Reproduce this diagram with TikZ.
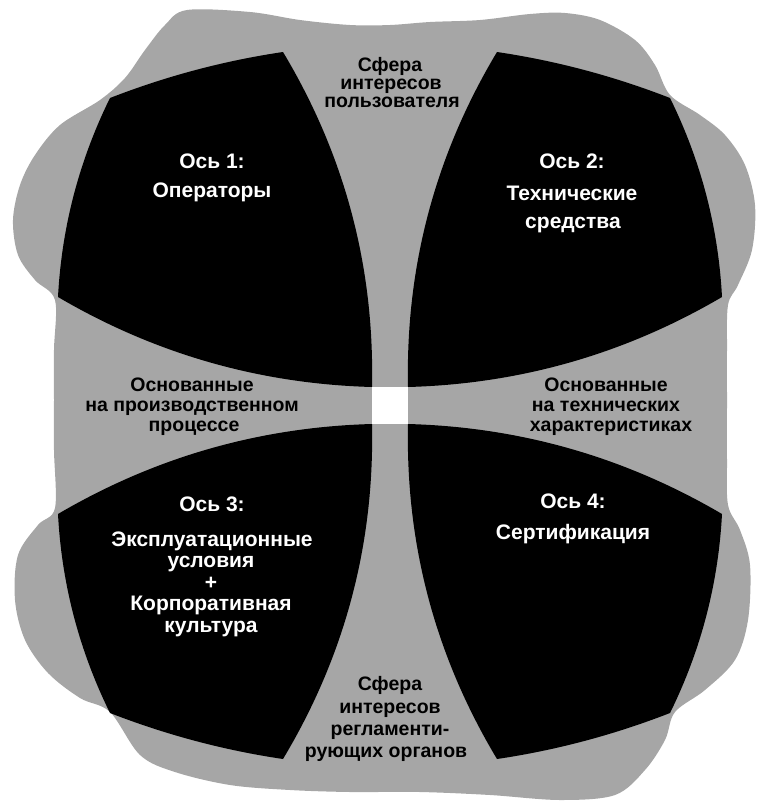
\documentclass[tikz,border=0pt]{standalone}
\usepackage{fontspec}
\setmainfont{Liberation Sans}
\begin{document}
\begin{tikzpicture}[x=1pt,y=-1pt,
  wtext/.style={text=white,font=\fontsize{21}{21}\selectfont\bfseries,anchor=base,inner sep=0pt},
  btext/.style={text=black,font=\fontsize{19.5}{19.5}\selectfont\bfseries,anchor=base,inner sep=0pt},
  quadpath/.style={insert path={(110,98) .. controls (166,76.2) and (223.6,60.8) .. (283,52)
      .. controls (344.9,155.2) and (374.5,266.8) .. (372,387)
      .. controls (259.6,383.9) and (155,353.9) .. (58,297)
      .. controls (61.7,227.1) and (79.1,160.7) .. (110,98) -- cycle}},
  quadfill/.style={fill=black}]
\useasboundingbox (0,0) rectangle (758,803);
% textured gray background
\fill[black!35] plot[smooth cycle, tension=0.55] coordinates {
 (187,10) (250,12) (300,20) (350,25) (390,25) (430,22) (480,20) (530,14) (565,13)
 (600,20) (635,40) (655,65) (670,95) (700,115) (725,135) (745,165) (755,205)
 (752,250) (738,285) (728,305) (727,350) (727,400) (727,460) (728,505) (740,530)
 (750,565) (748,620) (735,660) (705,690) (675,712) (665,740) (645,770) (615,795)
 (560,800) (490,795) (420,792) (350,792) (290,790) (230,785) (175,772) (140,755)
 (110,712) (80,698) (48,673) (25,640) (15,600) (18,555) (38,525) (55,508)
 (54,450) (54,400) (54,350) (55,300) (35,280) (18,255) (13,220) (20,185) (35,155)
 (60,125) (100,100) (125,78) (145,50) (165,25)};
% four black quadrants
\fill[quadfill,quadpath];
\begin{scope}[shift={(780,0)},xscale=-1]
  \fill[quadfill,quadpath];
\end{scope}
\begin{scope}[shift={(0,811)},yscale=-1]
  \fill[quadfill,quadpath];
\end{scope}
\begin{scope}[shift={(780,811)},xscale=-1,yscale=-1]
  \fill[quadfill,quadpath];
\end{scope}
% white centre square
\fill[white] (372,387) rectangle (408,424);
% white texts
\node[wtext] (a1) at (212,168) {Ось 1:};
\node[wtext] (a1t) at (212,197) {Операторы};
\node[wtext] (a2) at (572,168) {Ось 2:};
\node[wtext] (a2t1) at (572,200) {Технические};
\node[wtext] (a2t2) at (573,228) {средства};
\node[wtext] (a3) at (212,511) {Ось 3:};
\node[wtext] (a3t1) at (212,546) {Эксплуатационные};
\node[wtext] (a3t2) at (211,567.5) {условия};
\node[wtext] (a3t3) at (211,589) {+};
\node[wtext] (a3t4) at (211,610.5) {Корпоративная};
\node[wtext] (a3t5) at (211,632) {культура};
\node[wtext] (a4) at (573,508) {Ось 4:};
\node[wtext] (a4t) at (573,539) {Сертификация};
% black labels
\node[btext] (u1) at (390,71) {Сфера};
\node[btext] (u2) at (391,89) {интересов};
\node[btext] (u3) at (392,107) {пользователя};
\node[btext] (p1) at (192,391) {Основанные};
\node[btext] (p2) at (192,411) {на производственном};
\node[btext] (p3) at (194,431) {процессе};
\node[btext] (h1) at (606,391) {Основанные};
\node[btext] (h2) at (606,411) {на технических};
\node[btext] (h3) at (611,431) {характеристиках};
\node[btext] (r1) at (390,690) {Сфера};
\node[btext] (r2) at (390,713) {интересов};
\node[btext] (r3) at (390,735) {регламенти-};
\node[btext] (r4) at (386,757) {рующих органов};
\end{tikzpicture}
\end{document}
